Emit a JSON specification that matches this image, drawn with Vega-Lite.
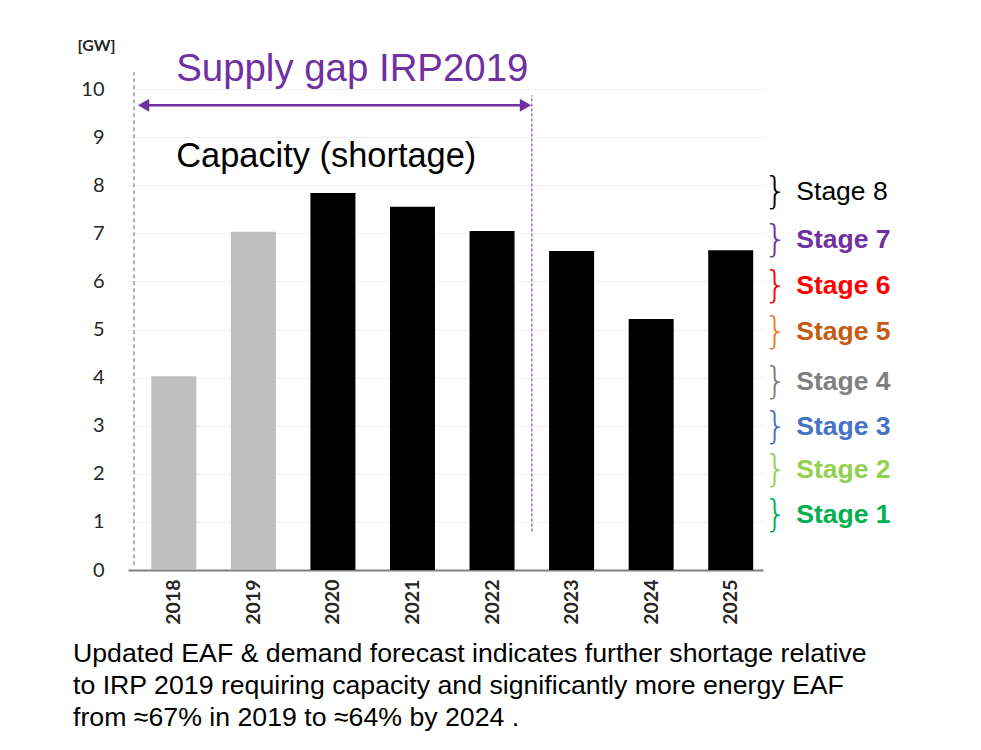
{
  "$schema": "https://vega.github.io/schema/vega-lite/v6.json",
  "autosize": {"type": "none"},
  "padding": {"left": 128, "top": 89, "right": 218, "bottom": 180},
  "width": 635,
  "height": 481,
  "background": "white",
  "config": {"view": {"stroke": null}},
  "title": {
    "text": ["Updated EAF & demand forecast indicates further shortage relative", "to IRP 2019 requiring capacity and significantly more energy EAF", "from ≈67% in 2019 to ≈64% by 2024 ."],
    "orient": "bottom",
    "anchor": "start",
    "align": "left",
    "baseline": "top",
    "dx": -4,
    "offset": 17,
    "font": "Liberation Sans",
    "fontSize": 26.7,
    "fontWeight": "normal",
    "color": "#000000",
    "lineHeight": 32
  },
  "resolve": {"scale": {"color": "independent"}},
  "layer": [
    {
      "data": {"values": [
        {"year": 2018, "gw": 4.03, "phase": "Actual"},
        {"year": 2019, "gw": 7.03, "phase": "Actual"},
        {"year": 2020, "gw": 7.84, "phase": "Forecast"},
        {"year": 2021, "gw": 7.55, "phase": "Forecast"},
        {"year": 2022, "gw": 7.05, "phase": "Forecast"},
        {"year": 2023, "gw": 6.63, "phase": "Forecast"},
        {"year": 2024, "gw": 5.22, "phase": "Forecast"},
        {"year": 2025, "gw": 6.65, "phase": "Forecast"}
      ]},
      "mark": {"type": "bar", "size": 45},
      "encoding": {
        "x": {
          "field": "year", "type": "quantitative",
          "scale": {"domain": [2017.487, 2025.343], "nice": false, "zero": false},
          "axis": {
            "title": null, "values": [2018, 2019, 2020, 2021, 2022, 2023, 2024, 2025],
            "format": "d", "grid": false, "ticks": false,
            "domain": true, "domainColor": "#7f7f7f", "domainWidth": 2,
            "labelAngle": -90, "labelAlign": "right", "labelBaseline": "middle",
            "labelPadding": 9, "labelFont": "Lato", "labelFontSize": 19.5, "labelFontWeight": "bold",
            "labelColor": "#262626", "labelFlush": false, "labelOverlap": false
          }
        },
        "y": {
          "field": "gw", "type": "quantitative",
          "scale": {"domain": [0, 10], "nice": false},
          "axis": {
            "title": "[GW]", "titleAngle": 0, "titleX": -32, "titleY": -44,
            "titleAlign": "center", "titleBaseline": "middle",
            "titleFont": "Lato", "titleFontSize": 16, "titleFontWeight": "bold", "titleColor": "#262626",
            "values": [0, 1, 2, 3, 4, 5, 6, 7, 8, 9, 10],
            "domain": false, "ticks": false, "grid": true, "gridColor": "#efefef", "gridWidth": 1,
            "labelPadding": 24, "labelFont": "Lato", "labelFontSize": 20, "labelColor": "#262626"
          }
        },
        "color": {
          "field": "phase", "type": "nominal",
          "scale": {"domain": ["Actual", "Forecast"], "range": ["#bfbfbf", "#000000"]},
          "legend": null
        }
      }
    },
    {
      "data": {"values": [{"year": 2017.5, "gw": 0.1, "gw2": 10.35}]},
      "mark": {"type": "rule", "color": "#9a9a9a", "strokeWidth": 1.5, "strokeDash": [4, 3]},
      "encoding": {
        "x": {"field": "year", "type": "quantitative"},
        "y": {"field": "gw", "type": "quantitative"},
        "y2": {"field": "gw2"}
      }
    },
    {
      "data": {"values": [{"year": 2022.5, "gw": 0.8, "gw2": 9.87}]},
      "mark": {"type": "rule", "color": "#9b6fd0", "strokeWidth": 1.5, "strokeDash": [3, 2]},
      "encoding": {
        "x": {"field": "year", "type": "quantitative"},
        "y": {"field": "gw", "type": "quantitative"},
        "y2": {"field": "gw2"}
      }
    },
    {
      "data": {"values": [{"year": 2017.62, "year2": 2022.42, "gw": 9.66}]},
      "mark": {"type": "rule", "color": "#7030a0", "strokeWidth": 2.5},
      "encoding": {
        "x": {"field": "year", "type": "quantitative"},
        "x2": {"field": "year2"},
        "y": {"field": "gw", "type": "quantitative"}
      }
    },
    {
      "data": {"values": [
        {"year": 2017.62, "gw": 9.66, "dir": "left"},
        {"year": 2022.42, "gw": 9.66, "dir": "right"}
      ]},
      "mark": {"type": "point", "filled": true, "color": "#7030a0", "opacity": 1, "size": 170},
      "encoding": {
        "x": {"field": "year", "type": "quantitative"},
        "y": {"field": "gw", "type": "quantitative"},
        "shape": {
          "field": "dir", "type": "nominal",
          "scale": {"domain": ["left", "right"], "range": ["triangle-left", "triangle-right"]},
          "legend": null
        }
      }
    },
    {
      "data": {"values": [{"year": 2018.03, "gw": 10.42, "label": "Supply gap IRP2019"}]},
      "mark": {"type": "text", "align": "left", "baseline": "middle", "font": "Liberation Sans", "fontSize": 38.4, "color": "#7030a0"},
      "encoding": {
        "x": {"field": "year", "type": "quantitative"},
        "y": {"field": "gw", "type": "quantitative"},
        "text": {"field": "label"}
      }
    },
    {
      "data": {"values": [{"year": 2018.03, "gw": 8.59, "label": "Capacity (shortage)"}]},
      "mark": {"type": "text", "align": "left", "baseline": "middle", "font": "Liberation Sans", "fontSize": 34.4, "color": "#000000"},
      "encoding": {
        "x": {"field": "year", "type": "quantitative"},
        "y": {"field": "gw", "type": "quantitative"},
        "text": {"field": "label"}
      }
    },
    {
      "data": {"values": [
        {"stage": "Stage 8", "gw": 7.86},
        {"stage": "Stage 7", "gw": 6.86},
        {"stage": "Stage 6", "gw": 5.9},
        {"stage": "Stage 5", "gw": 4.95},
        {"stage": "Stage 4", "gw": 3.91},
        {"stage": "Stage 3", "gw": 2.97},
        {"stage": "Stage 2", "gw": 2.08},
        {"stage": "Stage 1", "gw": 1.14}
      ]},
      "mark": {"type": "text", "align": "center", "baseline": "middle", "font": "DejaVu Sans", "fontSize": 38, "fontWeight": 200},
      "encoding": {
        "x": {"datum": 2025.565, "type": "quantitative"},
        "y": {"field": "gw", "type": "quantitative"},
        "text": {"value": "}"},
        "color": {
          "field": "stage", "type": "nominal",
          "scale": {
            "domain": ["Stage 8", "Stage 7", "Stage 6", "Stage 5", "Stage 4", "Stage 3", "Stage 2", "Stage 1"],
            "range": ["#000000", "#7030a0", "#ff0000", "#ed7d31", "#7f7f7f", "#4472c4", "#92d050", "#00b050"]
          },
          "legend": null
        }
      }
    },
    {
      "data": {"values": [{"stage": "Stage 8", "gw": 7.86}]},
      "mark": {"type": "text", "align": "left", "baseline": "middle", "font": "Liberation Sans", "fontSize": 26.5, "fontWeight": "normal", "color": "#000000"},
      "encoding": {
        "x": {"datum": 2025.825, "type": "quantitative"},
        "y": {"field": "gw", "type": "quantitative"},
        "text": {"field": "stage"}
      }
    },
    {
      "data": {"values": [
        {"stage": "Stage 7", "gw": 6.86},
        {"stage": "Stage 6", "gw": 5.9},
        {"stage": "Stage 5", "gw": 4.95},
        {"stage": "Stage 4", "gw": 3.91},
        {"stage": "Stage 3", "gw": 2.97},
        {"stage": "Stage 2", "gw": 2.08},
        {"stage": "Stage 1", "gw": 1.14}
      ]},
      "mark": {"type": "text", "align": "left", "baseline": "middle", "font": "Liberation Sans", "fontSize": 26.5, "fontWeight": "bold"},
      "encoding": {
        "x": {"datum": 2025.825, "type": "quantitative"},
        "y": {"field": "gw", "type": "quantitative"},
        "text": {"field": "stage"},
        "color": {
          "field": "stage", "type": "nominal",
          "scale": {
            "domain": ["Stage 7", "Stage 6", "Stage 5", "Stage 4", "Stage 3", "Stage 2", "Stage 1"],
            "range": ["#7030a0", "#ff0000", "#c55a11", "#7f7f7f", "#4472c4", "#92d050", "#00b050"]
          },
          "legend": null
        }
      }
    }
  ]
}
